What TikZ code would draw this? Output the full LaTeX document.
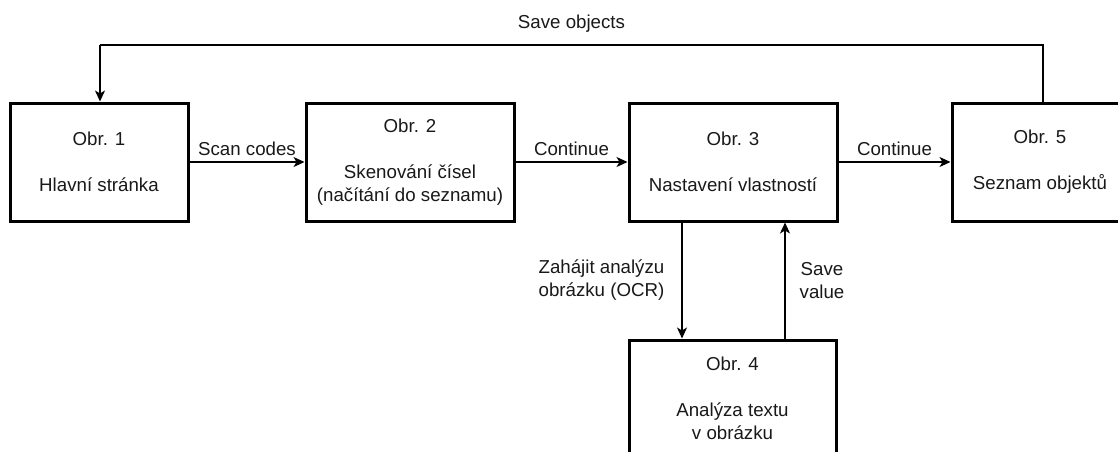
\documentclass[tikz,border=0pt]{standalone}
\usepackage{fontspec}
\setmainfont{Liberation Sans}
\usetikzlibrary{arrows.meta}
\begin{document}
\begin{tikzpicture}[x=1pt,y=-1pt,
  every node/.style={font=\fontsize{18.7}{23}\selectfont, text=black!90},
  screen/.style={draw=black, line width=3pt, align=center, minimum height=118pt, inner sep=0pt},
  flow/.style={line width=1.3pt, -{Stealth[length=11pt,width=10pt,inset=3pt]}},
  plain/.style={line width=1.2pt},
  lbl/.style={inner sep=0pt, align=center}]
\useasboundingbox (0,0) rectangle (1118,452);
\fill[white] (0,0) rectangle (1118,452);
\node[screen, minimum width=178pt] (b1) at (99,162) {Obr. 1\\[23pt]Hlavní stránka};
\node[screen, minimum width=208pt] (b2) at (410,162) {Obr. 2\\[23pt]Skenování čísel\\(načítání do seznamu)};
\node[screen, minimum width=208pt] (b3) at (733,162) {Obr. 3\\[23pt]Nastavení vlastností};
\node[screen, minimum width=176pt] (b5) at (1040,162) {Obr. 5\\[23pt]Seznam objektů};
\node[screen, minimum width=207pt, minimum height=117pt] (b4) at (732.5,398.5) {Obr. 4\\[23pt]Analýza textu\\v obrázku};
\coordinate (c5) at (1043,45);
\coordinate (c1) at (100,45);
\coordinate (xa) at (682,0);
\coordinate (xb) at (785,0);
\draw[flow] (b1.east) -- node[lbl, anchor=base, yshift=7pt] {Scan codes} (b2.west);
\draw[flow] (b2.east) -- node[lbl, anchor=base, yshift=7pt] {Continue} (b3.west);
\draw[flow] (b3.east) -- node[lbl, anchor=base, yshift=7pt] {Continue} (b5.west);
\draw[flow] (b3.south -| xa) -- node[lbl, anchor=east, xshift=-17pt] {Zahájit analýzu\\obrázku (OCR)} (b4.north -| xa);
\draw[flow] (b4.north -| xb) -- node[lbl, anchor=west, xshift=14pt] {Save\\value} (b3.south -| xb);
\draw[plain] (b5.north -| c5) -- (c5) -- node[lbl, anchor=base, yshift=16pt] {Save objects} (c1);
\draw[flow] (c1) -- (b1.north -| c1);
\end{tikzpicture}
\end{document}
